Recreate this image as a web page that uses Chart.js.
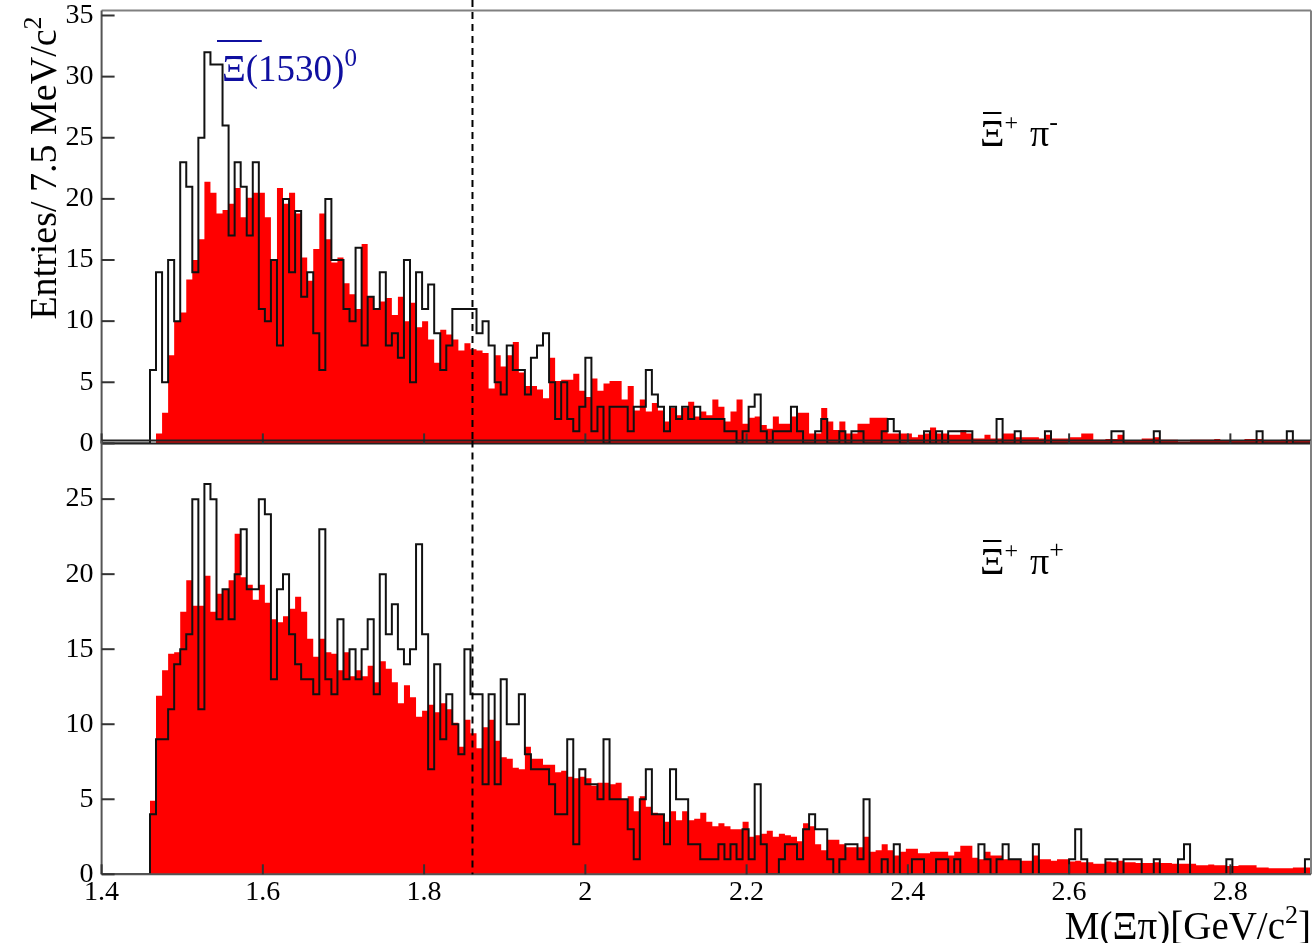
<!DOCTYPE html>
<html><head><meta charset="utf-8">
<script src="https://cdn.jsdelivr.net/npm/chart.js@4.4.1/dist/chart.umd.min.js"></script>
<style>
html,body{margin:0;padding:0;background:#fff;width:1313px;height:943px;overflow:hidden}
canvas{position:absolute;left:0}
#cTop{top:0}
#cBot{top:430px}
</style></head><body>
<canvas id="cTop" width="1313" height="460"></canvas>
<canvas id="cBot" width="1313" height="513"></canvas>
<script>
// ---- data (7.5 MeV bins from 1.4 to 2.9 GeV/c^2) ----
const X_MIN = 1.4, X_MAX = 2.9, BIN_WIDTH = 0.0075;
const xTickLabels = ['1.4','1.6','1.8','2','2.2','2.4','2.6','2.8'];
const yTicksTop = [0,5,10,15,20,25,30,35];
const yTicksBot = [0,5,10,15,20,25];
const cutMass = 1.86;

// Xi-bar+ pi- : data (black outline)
const dataMinus = [
 0,0,0,0,0,0,0,0,6,14,
 5,15,10,23,21,14,25,32,31,31,
 26,17,23,21,17,23,11,10,15,8,
 20,14,19,12,14,9,6,20,15,15,
 11,10,16,8,12,11,14,8,9,7,
 15,5,14,11,13,9,6,8,11,11,
 11,11,9,10,8,5,4,8,6,6,
 4,7,8,9,5,2,5,2,1,3,
 7,1,3,0,3,3,3,1,3,3,
 6,4,3,1,3,2,3,2,3,2,
 2,2,2,1,1,0,1,3,4,1,
 0,1,1,1,3,1,0,0,1,2,
 0,0,1,0,1,1,0,0,0,1,
 2,1,0,0,0,0,1,0,1,0,
 1,1,1,1,0,0,0,0,2,0,
 0,1,0,0,0,0,1,0,0,0,
 0,0,0,0,0,0,0,1,1,0,
 0,0,0,0,1,0,0,0,0,0,
 0,0,0,0,0,0,0,0,0,0,
 0,1,0,0,0,0,1,0,0,0];

// Xi-bar+ pi- : background (red filled)
const bkgMinus = [
 0,0,0,0,0,0,0,0,0,0.8,
 2.5,7.2,10.0,10.7,13.4,15.0,16.7,21.4,20.5,18.8,
 19.1,19.6,20.9,18.5,20.1,20.5,20.5,18.5,15.0,20.9,
 19.6,20.5,18.8,15.2,13.3,15.9,18.8,16.7,14.8,15.2,
 13.1,12.2,11.0,16.3,12.0,11.0,11.6,11.9,10.5,12.0,
 10.0,11.5,9.5,10.0,8.5,6.6,9.3,8.9,8.5,7.6,
 8.2,7.7,7.6,7.4,4.5,7.2,6.3,7.2,8.3,5.8,
 4.7,4.7,4.4,3.7,7.0,5.1,5.2,5.2,5.7,4.3,
 3.8,5.3,4.3,4.9,5.1,5.1,3.6,4.7,2.7,3.6,
 2.6,3.3,2.7,1.8,2.9,2.3,2.9,3.4,2.2,2.6,
 2.3,3.6,3.0,1.8,2.6,3.6,1.6,2.1,2.2,1.5,
 1.2,2.2,1.6,1.6,2.2,2.5,2.5,0.8,0.8,2.9,
 1.8,1.1,1.8,0.8,0.8,1.6,1.6,2.1,2.1,2.1,
 0.8,0.8,0.8,0.8,0.5,0.7,0.8,1.3,0.8,0.8,
 0.7,0.7,1.1,0.8,0.4,0.4,0.7,0.4,0.4,0.8,
 0.8,0.5,0.5,0.5,0.5,0.4,0.7,0.4,0.4,0.4,
 0.5,0.5,0.8,0.8,0.3,0.3,0.35,0.35,0.7,0.2,
 0.2,0.2,0.4,0.4,0.5,0.3,0.3,0.3,0.15,0.15,
 0.3,0.3,0.3,0.3,0.35,0.2,0.2,0.2,0.2,0.35,
 0.35,0.35,0.2,0.2,0.2,0.3,0.3,0.2,0.2,0.2];

// Xi-bar+ pi+ : data (black outline)
const dataPlus = [
 0,0,0,0,0,0,0,0,4,9,
 9,11,14,15,16,25,11,26,25,17,
 19,17,20,23,19,19,25,24,13,19,
 20,16,14,13,13,12,23,13,12,17,
 13,15,13,15,17,12,20,16,18,15,
 14,15,22,16,7,14,9,12,10,8,
 15,12,12,6,12,6,13,10,10,12,
 8,7,7,7,6,4,4,9,2,7,
 6,6,5,9,5,5,5,3,1,5,
 7,4,4,2,7,5,5,2,2,1,
 1,1,2,1,2,1,3,1,6,2,
 0,0,1,2,2,1,3,4,3,3,
 1,0,1,2,2,1,5,0,0,1,
 0,2,0,0,1,1,0,0,1,1,
 0,1,0,0,0,2,1,0,1,2,
 1,1,0,0,2,0,0,0,0,0,
 1,3,1,0,0,0,1,1,0,1,
 1,1,0,0,1,0,0,0,1,2,
 0,0,0,0,0,0,1,0,0,0,
 0,0,0,0,0,0,0,0,0,1];

// Xi-bar+ pi+ : background (red filled)
const bkgPlus = [
 0,0,0,0,0,0,0,0,4.9,11.9,
 13.6,14.7,14.8,17.5,19.6,17.9,17.9,19.9,17.5,18.7,
 19.0,19.6,22.7,19.8,19.3,18.3,19.3,18.1,17.0,16.8,
 17.2,17.7,18.5,17.5,15.7,14.5,15.7,14.8,14.7,13.6,
 14.8,13.2,13.6,13.2,13.9,12.8,14.2,13.7,12.8,11.4,
 12.6,11.8,10.5,10.9,11.3,10.8,11.4,11.0,10.1,8.5,
 10.3,9.4,8.4,9.8,10.3,8.9,7.8,7.7,7.1,7.0,
 8.5,7.7,7.7,7.3,7.3,6.8,6.9,6.5,6.4,6.5,
 6.4,5.9,6.1,6.1,6.0,6.1,5.0,5.2,4.2,5.2,
 4.5,4.1,4.0,3.5,4.2,3.6,4.2,3.6,3.7,4.1,
 3.5,3.2,3.4,3.2,3.0,3.0,3.5,2.5,2.6,2.7,
 2.9,2.5,2.7,2.6,2.5,2.2,3.4,3.2,2.0,1.6,
 2.3,2.3,2.0,1.8,1.8,1.8,2.5,1.5,1.6,2.0,
 1.6,1.25,1.5,1.7,1.7,1.4,1.4,1.5,1.5,1.5,
 1.25,1.5,1.9,1.9,1.1,1.0,1.5,1.25,1.25,1.0,
 1.0,1.0,0.9,0.9,1.25,1.0,1.0,0.9,1.0,1.0,
 0.85,0.9,0.8,0.8,0.7,0.7,0.85,0.8,0.9,0.8,
 0.8,0.75,0.75,0.75,0.8,0.75,0.75,0.7,0.7,0.7,
 0.7,0.6,0.6,0.65,0.6,0.6,0.55,0.55,0.6,0.6,
 0.6,0.45,0.45,0.4,0.4,0.4,0.4,0.45,0.45,0.45];

// ---- helpers ----
function stepPoints(values){
  const pts = values.map((v,i)=>({x: X_MIN + i*BIN_WIDTH, y: v}));
  pts.push({x: X_MIN + values.length*BIN_WIDTH, y: values[values.length-1]});
  return pts;
}
const SERIF = "'Liberation Serif', 'DejaVu Serif', serif";
function drawSegs(ctx, segs, x, y){
  let cx = x;
  for (const s of segs){
    ctx.font = s.font; ctx.fillStyle = s.color || '#000';
    ctx.fillText(s.t, cx, y + (s.dy||0));
    const w = ctx.measureText(s.t).width;
    if (s.bar){ ctx.save(); ctx.strokeStyle = s.color||'#000'; ctx.lineWidth = 2; ctx.beginPath();
      ctx.moveTo(cx + s.bar[0], y + s.bar[2]); ctx.lineTo(cx + w + s.bar[1], y + s.bar[2]); ctx.stroke(); ctx.restore(); }
    cx += w + (s.gap||0);
  }
  return cx;
}
function segsWidth(ctx, segs){
  let w = 0; for (const s of segs){ ctx.font = s.font; w += ctx.measureText(s.t).width + (s.gap||0); } return w;
}
function drawFrameAndTicks(chart, isTop, yTicks){
  const ctx = chart.ctx, a = chart.chartArea, xs = chart.scales.x, ys = chart.scales.y;
  ctx.save();
  ctx.lineWidth = 2;
  ctx.strokeStyle = isTop ? '#808080' : '#222';
  ctx.beginPath(); ctx.moveTo(a.left, a.top); ctx.lineTo(a.right, a.top); ctx.stroke();
  ctx.strokeStyle = '#808080';
  ctx.beginPath(); ctx.moveTo(a.right, a.top); ctx.lineTo(a.right, a.bottom); ctx.stroke();
  ctx.strokeStyle = isTop ? '#222' : '#555';
  ctx.beginPath(); ctx.moveTo(a.left, a.bottom); ctx.lineTo(a.right, a.bottom); ctx.stroke();
  ctx.strokeStyle = '#555';
  ctx.beginPath(); ctx.moveTo(a.left, a.top); ctx.lineTo(a.left, a.bottom); ctx.stroke();
  ctx.strokeStyle = '#333';
  yTicks.forEach(v => {
    const y = ys.getPixelForValue(v);
    ctx.beginPath(); ctx.moveTo(a.left, y); ctx.lineTo(a.left + 13, y); ctx.stroke();
  });
  xTickLabels.forEach((lab, i) => {
    const x = xs.getPixelForValue(X_MIN + 0.2*i);
    ctx.beginPath(); ctx.moveTo(x, a.bottom); ctx.lineTo(x, a.bottom - 10); ctx.stroke();
  });
  const xc = xs.getPixelForValue(cutMass);
  ctx.setLineDash([7,5]); ctx.strokeStyle = '#000'; ctx.lineWidth = 2;
  ctx.beginPath();
  if (isTop){ ctx.moveTo(xc, 0); ctx.lineTo(xc, a.bottom); }
  else { ctx.moveTo(xc, a.top); ctx.lineTo(xc, a.bottom); }
  ctx.stroke();
  ctx.restore();
}
function channelLabel(ctx, sign, x, y){
  drawSegs(ctx, [
    {t:'\u039E', font:'38px '+SERIF, bar:[3,-3,-33]},
    {t:'+', font:'24px '+SERIF, dy:-16, gap:12},
    {t:'\u03C0', font:'38px '+SERIF},
    {t:sign, font:'26px '+SERIF, dy:-16}
  ], x, y);
}

const topDecor = {
  id: 'topDecor',
  afterDraw(chart){
    drawFrameAndTicks(chart, true, yTicksTop);
    const ctx = chart.ctx;
    ctx.save();
    ctx.textBaseline = 'alphabetic';
    ctx.save();
    ctx.translate(56, 168); ctx.rotate(-Math.PI/2);
    const yt = [{t:'Entries/ 7.5 MeV/c', font:'38px '+SERIF},{t:'2', font:'26px '+SERIF, dy:-15}];
    const w = segsWidth(ctx, yt);
    drawSegs(ctx, yt, -w/2, 0);
    ctx.restore();
    drawSegs(ctx, [
      {t:'\u039E', font:'37px '+SERIF, color:'#0f0fa0', bar:[-5, 16, -40]},
      {t:'(1530)', font:'37px '+SERIF, color:'#0f0fa0'},
      {t:'0', font:'25px '+SERIF, color:'#0f0fa0', dy:-15}
    ], 222, 81);
    channelLabel(ctx, '-', 980, 146);
    ctx.restore();
  }
};
const botDecor = {
  id: 'botDecor',
  afterDraw(chart){
    drawFrameAndTicks(chart, false, yTicksBot);
    const ctx = chart.ctx;
    ctx.save();
    channelLabel(ctx, '+', 980, 144);
    const xt = [
      {t:'M(\u039E\u03C0)[GeV/c', font:'39px '+SERIF},
      {t:'2', font:'26px '+SERIF, dy:-16},
      {t:']', font:'39px '+SERIF}
    ];
    const w = segsWidth(ctx, xt);
    drawSegs(ctx, xt, 1311 - w, 939 - 430);
    ctx.restore();
  }
};

function makeChart(id, dataVals, bkgVals, yMax, yTicks, isTop){
  const tickFont = {family: SERIF, size: 28};
  const yTickFont = {family: SERIF, size: 28, lineHeight: 0.1};
  return new Chart(document.getElementById(id), {
    type: 'line',
    data: { datasets: [
      { label: 'data', data: stepPoints(dataVals), stepped: 'before', borderColor: '#111', borderWidth: 2,
        pointRadius: 0, fill: false, order: 0 },
      { label: 'background', data: stepPoints(bkgVals), stepped: 'before', borderColor: 'rgba(255,0,0,0)', borderWidth: 0,
        backgroundColor: '#ff0000', pointRadius: 0, fill: 'origin', order: 1 }
    ]},
    options: {
      responsive: false, animation: false, devicePixelRatio: 1,
      layout: { padding: isTop ? {top: 10.6, bottom: 16.6, left: 0, right: 2} : {top: 10.6, bottom: 0, left: 0, right: 2} },
      plugins: { legend: {display: false}, tooltip: {enabled: false} },
      elements: { line: { tension: 0 } },
      scales: {
        x: isTop ? { type: 'linear', min: X_MIN, max: X_MAX, display: false } : {
          type: 'linear', min: X_MIN, max: X_MAX,
          afterFit(s){ s.height = 513 - 12 - 432.3; },
          afterBuildTicks(s){ s.ticks = xTickLabels.map((l, i) => ({value: X_MIN + 0.2*i})); },
          ticks: { autoSkip: false, maxRotation: 0, color: '#000', font: tickFont, padding: 2,
            callback: v => xTickLabels[Math.round((v - X_MIN)/0.2)] },
          grid: { drawOnChartArea: false, drawTicks: false },
          border: { display: false }
        },
        y: {
          min: 0, max: yMax,
          afterFit(s){ s.width = 101.6; },
          afterBuildTicks(s){ s.ticks = yTicks.map(v => ({value: v})); },
          ticks: { autoSkip: false, color: '#000', font: yTickFont, padding: 8 },
          grid: { drawOnChartArea: false, drawTicks: false },
          border: { display: false }
        }
      }
    },
    plugins: [isTop ? topDecor : botDecor]
  });
}
makeChart('cTop', dataMinus, bkgMinus, 35.4, yTicksTop, true);
makeChart('cBot', dataPlus, bkgPlus, 28.9, yTicksBot, false);
</script>
</body></html>
